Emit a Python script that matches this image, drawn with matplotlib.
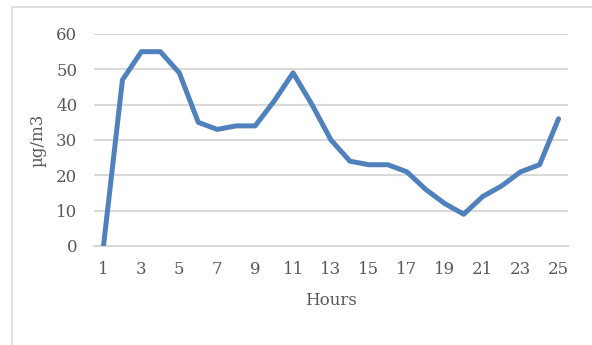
import matplotlib
matplotlib.use("Agg")
import matplotlib.pyplot as plt
from matplotlib.patches import Rectangle

# hourly concentration readings
hours = list(range(1, 26))
conc = [0, 47, 55, 55, 49, 35, 33, 34, 34, 41, 49, 40, 30, 24, 23, 23, 21, 16, 12, 9, 14, 17, 21, 23, 36]
x_ticks = list(range(1, 26, 2))
y_ticks = [0, 10, 20, 30, 40, 50, 60]

text_color = "#595959"
grid_color = "#D9D9D9"
plt.rcParams["font.family"] = ["DejaVu Serif"]

fig = plt.figure(figsize=(5.92, 3.45), dpi=100)
W, H = 592, 345
ax = fig.add_axes([94 / W, 1 - 246 / H, (568 - 94) / W, (246 - 34) / H])

# chart border (open on right and bottom)
fig.add_artist(Rectangle((12 / W, -0.1), 1.2, 1 - 7 / H + 0.1, transform=fig.transFigure,
                         fill=False, edgecolor=grid_color, linewidth=1.2))

ax.plot(hours, conc, color="#4F81BD", linewidth=3.6, solid_capstyle="round", solid_joinstyle="round", zorder=3)

ax.set_xlim(0.5, 25.5)
ax.set_ylim(0, 60)
ax.set_xticks(x_ticks)
ax.set_yticks(y_ticks)
ax.yaxis.grid(True, color=grid_color, linewidth=1.5)
ax.set_axisbelow(True)
for s in ["top", "right", "left"]:
    ax.spines[s].set_visible(False)
ax.spines["bottom"].set_color(grid_color)
ax.spines["bottom"].set_linewidth(1.5)
ax.tick_params(length=0, labelsize=12, colors=text_color)
ax.tick_params(axis="x", pad=11)
ax.tick_params(axis="y", pad=12)
ax.set_xlabel("Hours", fontsize=12, color=text_color, labelpad=10)
ax.set_ylabel("µg/m3", fontsize=12, color=text_color, labelpad=7)

fig.savefig("out.png", dpi=100)
